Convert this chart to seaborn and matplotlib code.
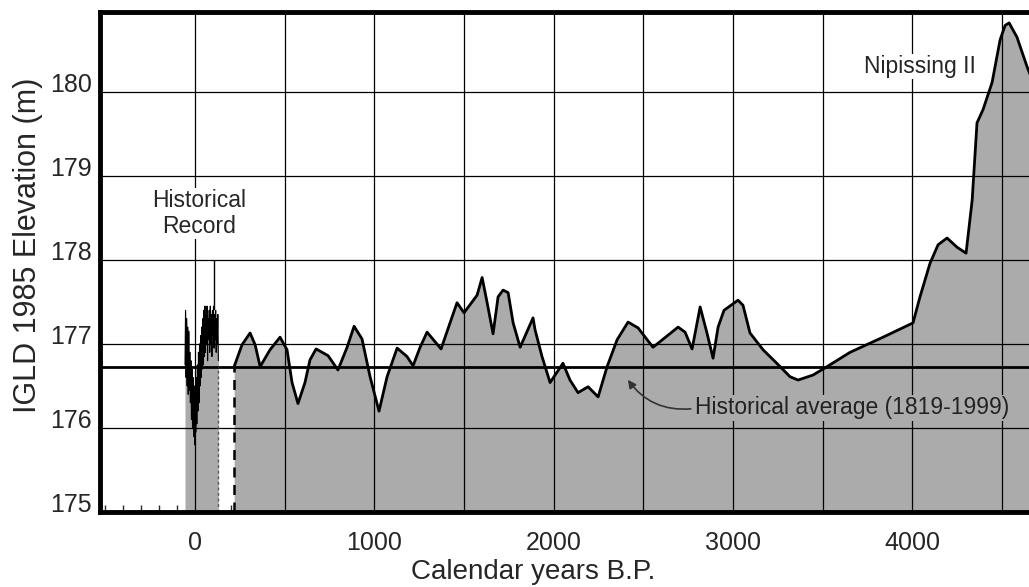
import numpy as np
import pandas as pd
import seaborn as sns
import matplotlib.pyplot as plt
from matplotlib.ticker import MultipleLocator
from matplotlib.transforms import ScaledTranslation

# datos leidos de la figura
# registro historico (1819-1999)
hist_anos = [-56, -53, -50, -47, -44, -41, -38, -35, -32, -29, -26, -23, -20, -17, -14,
             -11, -8, -5, -2, 1, 4, 7, 10, 13, 16, 19, 22, 25, 28, 31, 34, 37, 40,
             43, 46, 49, 52, 55, 58, 61, 64, 67, 70, 73, 76, 79, 82, 85, 88, 91, 94,
             97, 100, 103, 106, 109, 112, 115, 118, 121, 124, 127, 130]
hist_nivel = [176.75, 177.40, 176.60, 177.30, 176.50, 177.20, 176.40, 177.15, 176.45, 176.90,
              176.30, 176.80, 176.10, 176.70, 176.00, 176.60, 175.90, 176.50, 175.80, 176.40,
              175.95, 176.60, 176.05, 176.75, 176.20, 176.90, 176.30, 177.00, 176.50, 177.10,
              176.60, 177.20, 176.70, 177.30, 176.75, 177.40, 176.85, 177.45, 176.90, 177.35,
              177.00, 177.45, 176.80, 177.30, 177.05, 177.40, 176.90, 177.45, 177.00, 177.35,
              176.85, 177.40, 177.10, 177.45, 176.95, 177.35, 177.05, 177.40, 176.90, 177.30,
              177.00, 177.35, 176.80]

# curva reconstruida
anos = [218, 262, 307, 335, 363, 418, 474, 513, 541, 574, 613, 641, 675, 742, 797,
        848, 887, 931, 976, 1026, 1071, 1127, 1182, 1216, 1255, 1294, 1372, 1422, 1461,
        1500, 1573, 1601, 1629, 1662, 1690, 1718, 1746, 1774, 1813, 1885, 1896, 1935,
        1980, 2052, 2091, 2136, 2192, 2248, 2298, 2354, 2415, 2471, 2554, 2694, 2733,
        2772, 2817, 2855, 2889, 2917, 2950, 3028, 3056, 3095, 3168, 3263, 3318, 3363,
        3447, 3525, 3653, 3837, 4004, 4043, 4099, 4144, 4194, 4250, 4300, 4334, 4361,
        4395, 4445, 4490, 4518, 4540, 4584, 4640, 4713]
nivel = [176.73, 176.99, 177.13, 176.99, 176.73, 176.93, 177.08, 176.93, 176.54, 176.29,
         176.54, 176.81, 176.94, 176.86, 176.69, 176.96, 177.21, 177.06, 176.61, 176.20,
         176.61, 176.95, 176.85, 176.74, 176.96, 177.14, 176.94, 177.25, 177.49, 177.37,
         177.58, 177.79, 177.49, 177.12, 177.56, 177.64, 177.61, 177.25, 176.96, 177.31,
         177.17, 176.85, 176.54, 176.77, 176.57, 176.42, 176.49, 176.37, 176.73, 177.05,
         177.26, 177.19, 176.96, 177.20, 177.14, 176.94, 177.44, 177.13, 176.83, 177.20,
         177.40, 177.52, 177.46, 177.13, 176.93, 176.73, 176.61, 176.57, 176.63, 176.73,
         176.90, 177.08, 177.25, 177.56, 177.96, 178.18, 178.26, 178.15, 178.08, 178.71,
         179.63, 179.79, 180.11, 180.62, 180.79, 180.82, 180.65, 180.30, 179.90]

promedio = 176.73

df = pd.DataFrame({"ANO": anos, "NIVEL": nivel})
df_hist = pd.DataFrame({"ANO": hist_anos, "NIVEL": hist_nivel})

sns.set_style("white")
plt.rcParams['font.family'] = ['Liberation Sans', 'DejaVu Sans']

fig = plt.figure(figsize=(10.29, 5.87), dpi=100)
ax = fig.add_axes([0.0972, 0.1278, 0.9028, 0.8518])

gris = "#ababab"

# relleno
ax.fill_between(df["ANO"], 175, df["NIVEL"], color=gris, lw=0, zorder=1)
ax.fill_between(df_hist["ANO"], 175, df_hist["NIVEL"], color=gris, lw=0, zorder=1)

# grilla
for xg in range(0, 5000, 500):
    ax.axvline(xg, color="black", lw=0.9, zorder=2)
for yg in [176, 177, 178, 179, 180]:
    ax.axhline(yg, color="black", lw=0.9, zorder=2)

# promedio historico
ax.axhline(promedio, color="black", lw=2, zorder=3)

sns.lineplot(data=df, x="ANO", y="NIVEL", ax=ax, color="black", lw=2,
             zorder=4, solid_joinstyle="round", sort=False)
sns.lineplot(data=df_hist, x="ANO", y="NIVEL", ax=ax, color="black", lw=0.8,
             zorder=4, sort=False)

# lineas discontinuas
ax.plot([anos[0], anos[0]], [175, nivel[0]], color="black", lw=1.8,
        linestyle=(0, (4, 3)), zorder=4)
ax.plot([hist_anos[-1], hist_anos[-1]], [175, promedio], color="#555555", lw=1,
        linestyle=(0, (2, 2)), zorder=4)

# textos
ax.text(22, 178.55, "Historical\nRecord", ha="center", va="center", fontsize=16.5,
        linespacing=1.15, zorder=5,
        bbox=dict(facecolor="white", edgecolor="none", pad=1))
ax.plot([103, 103], [178.0, 177.42], color="black", lw=1, zorder=4)

ax.text(4043, 180.3, "Nipissing II", ha="center", va="center", fontsize=16.5, zorder=5,
        bbox=dict(facecolor="white", edgecolor="none", pad=1))

ax.text(2790, 176.24, "Historical average (1819-1999)", ha="left", va="center",
        fontsize=16.5, color="#222222", zorder=5,
        bbox=dict(facecolor=gris, edgecolor="none", pad=1))
ax.annotate("", xy=(2405, 176.6), xytext=(2780, 176.23),
            arrowprops=dict(arrowstyle="-|>", color="#333333", lw=1.2,
                            connectionstyle="arc3,rad=-0.3", mutation_scale=12),
            zorder=5)

ax.set_xlim(-530, 4651)
ax.set_ylim(175, 180.95)
ax.set_xticks([0, 1000, 2000, 3000, 4000])
ax.xaxis.set_minor_locator(MultipleLocator(100))
ax.set_yticks([175, 176, 177, 178, 179, 180])
ax.tick_params(axis="both", which="major", labelsize=18, direction="in", length=5,
               width=1.2, color="black")
ax.tick_params(axis="x", which="major", pad=14)
ax.tick_params(axis="y", which="major", pad=6)
ax.tick_params(axis="x", which="minor", direction="in", length=5, width=1, bottom=True)

# etiquetas del eje y un poco por encima de la grilla, como en el original
desplaza = ScaledTranslation(0, 9 / 100, fig.dpi_scale_trans)
for lab in ax.get_yticklabels():
    lab.set_transform(lab.get_transform() + desplaza)

ax.set_xlabel("Calendar years B.P.", fontsize=20)
ax.xaxis.set_label_coords(0.466, -0.094)
ax.set_ylabel("IGLD 1985 Elevation (m)", fontsize=22)
ax.yaxis.set_label_coords(-0.061, 0.534)

for lado in ["top", "left", "bottom"]:
    ax.spines[lado].set_linewidth(3.5)
    ax.spines[lado].set_color("black")
    ax.spines[lado].set_zorder(6)
ax.spines["right"].set_visible(False)

plt.savefig("out.png", dpi=100)
